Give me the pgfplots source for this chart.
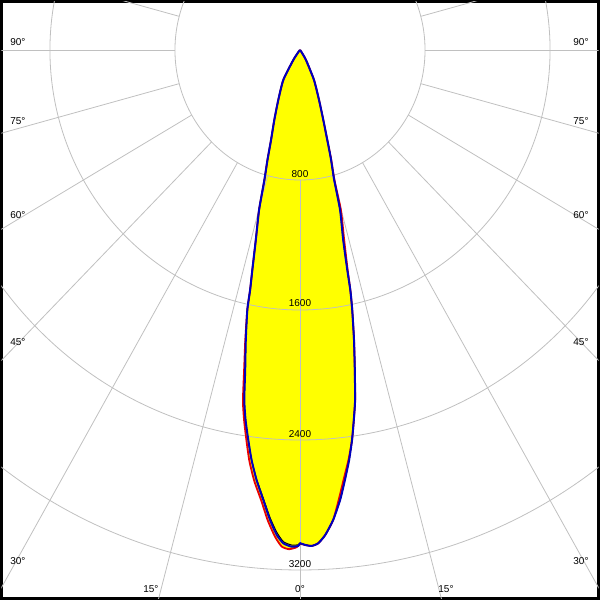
\documentclass[border=0pt]{standalone}
\usepackage{pgfplots}
\pgfplotsset{compat=1.18}
\usepackage{pgfplotstable}
\usepackage{fontspec}
\setmainfont{Liberation Sans}
\definecolor{gridc}{RGB}{192,192,192}
\definecolor{bluec}{RGB}{0,0,190}
\definecolor{redc}{RGB}{235,0,0}
\definecolor{fillc}{RGB}{255,255,0}

% angle (deg, 0 = straight down), luminous intensity (cd)
\pgfplotstableread{
ang cd
-90 0
-45 0
-40 15
-34.9 75
-30.1 213
-24.3 338
-20.9 461
-18.5 584
-17.1 708
-15.9 832
-14.9 1019
-13.6 1203
-12.7 1388
-12.2 1511
-11.9 1635
-11.0 1818
-10.1 2000
-9.4 2183
-8.7 2303
-7.85 2423
-7.0 2542
-6.0 2661
-4.85 2779
-3.8 2898
-2.86 2988
-2.0 3038
-1.0 3057
-0.2 3052
0 3035
0.6 3046
1.4 3053
2.2 3038
3.1 2989
4.2 2900
5.3 2781
6.2 2662
7.1 2543
7.9 2423
8.6 2303
9.3 2182
10.1 2000
10.96 1818
11.8 1635
12.3 1512
12.6 1387
13.3 1202
14.6 1017
15.3 830
16.5 693
17.5 581
19.1 456
21.6 331
25.9 205
32.0 72
38 12
45 0
90 0
}\bluedata

\pgfplotstableread{
ang cd
-90 0
-45 0
-40 15
-34.9 75
-30.1 213
-24.3 338
-20.9 461
-18.5 584
-17.1 708
-15.9 832
-14.9 1019
-13.6 1203
-12.7 1388
-12.2 1511
-11.9 1635
-11.1 1818
-10.3 2000
-9.6 2190
-8.9 2310
-8.1 2430
-7.3 2550
-6.3 2668
-5.1 2785
-4.05 2905
-3.05 3000
-2.2 3058
-1.3 3073
-0.4 3060
0 3040
0.6 3046
1.4 3053
2.2 3038
3.1 2989
4.2 2900
5.1 2781
6.0 2662
7.0 2543
7.9 2423
8.6 2303
9.3 2182
10.1 2000
10.96 1818
11.8 1635
12.3 1512
12.7 1387
13.6 1202
14.9 1017
15.4 830
16.6 693
17.5 581
19.1 456
21.6 331
25.9 205
32.0 72
38 12
45 0
90 0
}\reddata

\pgfplotstableread{
ang cd
-90 0
-45 0
-40 15
-34.9 75
-30.1 213
-24.3 338
-20.9 461
-18.5 584
-17.1 708
-15.9 832
-14.9 1019
-13.6 1203
-12.7 1388
-12.2 1511
-11.9 1635
-11.0 1818
-10.1 2000
-9.4 2183
-8.7 2303
-7.85 2423
-7.0 2542
-6.0 2655
-4.85 2770
-3.8 2885
-2.86 2972
-2.0 3028
-1.0 3047
-0.2 3045
0 3035
0.6 3046
1.4 3053
2.2 3038
3.1 2989
4.2 2900
5.3 2781
6.2 2662
7.1 2543
7.9 2423
8.6 2303
9.3 2182
10.1 2000
10.96 1818
11.8 1635
12.3 1512
12.6 1387
13.3 1202
14.6 1017
15.3 830
16.5 693
17.5 581
19.1 456
21.6 331
25.9 205
32.0 72
38 12
45 0
90 0
}\blackdata

\begin{document}
\begin{tikzpicture}
\begin{axis}[
  width=597pt, height=597pt, scale only axis,
  xmin=-1910, xmax=1910, ymin=-3375.4, ymax=298.5,
  axis line style={line width=3pt, black},
  ticks=none, disabledatascaling,
  clip=true,
  every node/.append style={font=\fontsize{11.5}{13}\selectfont, inner sep=0pt},
]
% fills
\addplot[fill=fillc, draw=none, smooth, tension=0.35] table[x expr={\thisrow{cd}*sin(\thisrow{ang})}, y expr={-\thisrow{cd}*cos(\thisrow{ang})}] {\reddata};
\addplot[fill=fillc, draw=none, smooth, tension=0.35] table[x expr={\thisrow{cd}*sin(\thisrow{ang})}, y expr={-\thisrow{cd}*cos(\thisrow{ang})}] {\bluedata};
% grid circles
\draw[gridc, line width=0.8pt] (axis cs:0,0) ellipse [x radius=800, y radius=800];
\draw[gridc, line width=0.8pt] (axis cs:0,0) ellipse [x radius=1600, y radius=1600];
\draw[gridc, line width=0.8pt] (axis cs:0,0) ellipse [x radius=2400, y radius=2400];
\draw[gridc, line width=0.8pt] (axis cs:0,0) ellipse [x radius=3200, y radius=3200];
\draw[gridc, line width=0.8pt] (axis cs:0,0) ellipse [x radius=4000, y radius=4000];
% radial lines
\pgfplotsinvokeforeach{0,15,...,345}{
  \draw[gridc, line width=0.8pt] (axis cs:{800*sin(#1)},{-800*cos(#1)}) -- (axis cs:{7000*sin(#1)},{-7000*cos(#1)});
}
% intensity labels
\node at (axis cs:0,-763) {800};
\node at (axis cs:0,-1560) {1600};
\node at (axis cs:0,-2363) {2400};
\node at (axis cs:0,-3163) {3200};
% angle labels
\node at (axis cs:-1805,49) {90°};
\node at (axis cs:-1805,-437) {75°};
\node at (axis cs:-1805,-1015) {60°};
\node at (axis cs:-1805,-1797) {45°};
\node at (axis cs:-1805,-3145) {30°};
\node at (axis cs:-954,-3317) {15°};
\node at (axis cs:0,-3317) {0°};
\node at (axis cs:934,-3317) {15°};
\node at (axis cs:1798,-3145) {30°};
\node at (axis cs:1798,-1797) {45°};
\node at (axis cs:1798,-1015) {60°};
\node at (axis cs:1798,-437) {75°};
\node at (axis cs:1798,49) {90°};
% curves
\addplot[redc, line width=1.8pt, smooth, tension=0.35] table[x expr={\thisrow{cd}*sin(\thisrow{ang})}, y expr={-\thisrow{cd}*cos(\thisrow{ang})}] {\reddata};
\addplot[black, line width=1pt, smooth, tension=0.35] table[x expr={\thisrow{cd}*sin(\thisrow{ang})}, y expr={-\thisrow{cd}*cos(\thisrow{ang})}] {\blackdata};
\addplot[bluec, line width=2pt, line join=round, smooth, tension=0.35] table[x expr={\thisrow{cd}*sin(\thisrow{ang})}, y expr={-\thisrow{cd}*cos(\thisrow{ang})}] {\bluedata};
\end{axis}
\end{tikzpicture}
\end{document}
